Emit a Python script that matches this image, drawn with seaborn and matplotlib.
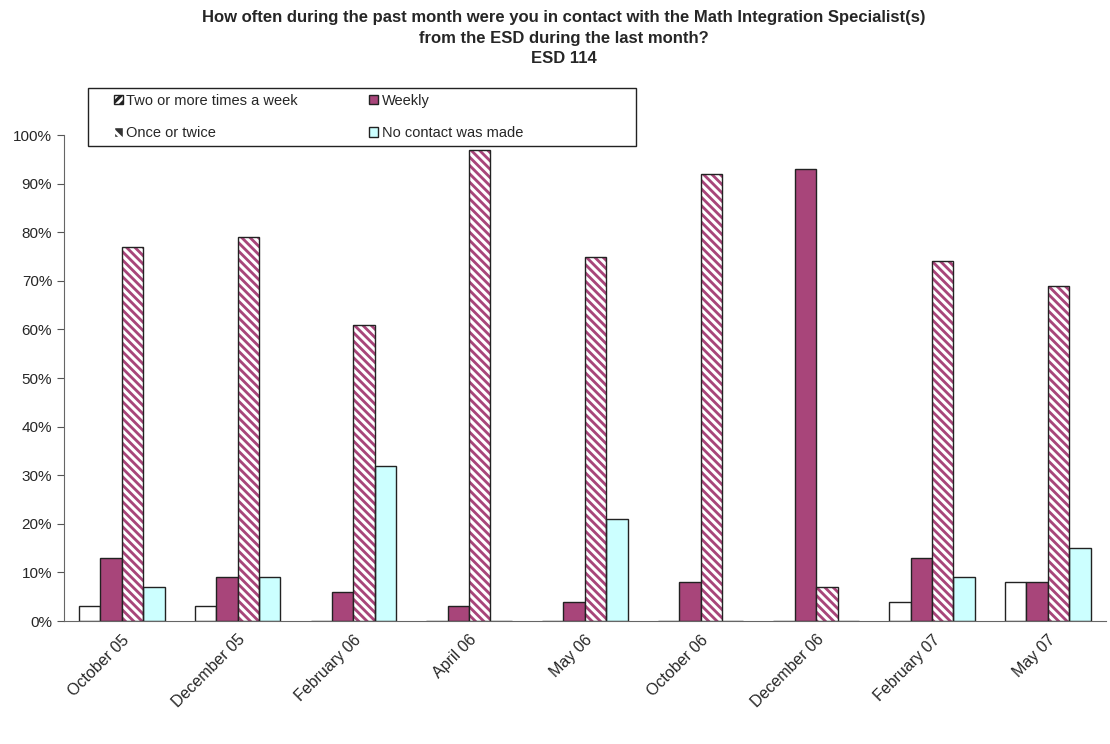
import pandas as pd
import numpy as np
import matplotlib.pyplot as plt
import matplotlib.patches as mpatches
import seaborn as sns
from matplotlib.ticker import PercentFormatter

# Survey periods
months = ['October 05', 'December 05', 'February 06', 'April 06', 'May 06',
          'October 06', 'December 06', 'February 07', 'May 07']

# Share of respondents (%) for each answer
two_or_more = [3, 3, 0, 0, 0, 0, 0, 4, 8]
weekly = [13, 9, 6, 3, 4, 8, 93, 13, 8]
once_twice = [77, 79, 61, 97, 75, 92, 7, 74, 69]
no_contact = [7, 9, 32, 0, 21, 0, 0, 9, 15]

series = ['Two or more times a week', 'Weekly', 'Once or twice', 'No contact was made']
values = [two_or_more, weekly, once_twice, no_contact]

rows = []
for s, vals in zip(series, values):
    for m, v in zip(months, vals):
        rows.append({'Month': m, 'Answer': s, 'Pct': v / 100})
df = pd.DataFrame(rows)

sns.set_style('white')
plt.rcParams['font.family'] = ['Liberation Sans', 'DejaVu Sans']
plt.rcParams['hatch.linewidth'] = 2.2

magenta = '#a8457a'
colors = {'Two or more times a week': '#ffffff', 'Weekly': magenta,
          'Once or twice': magenta, 'No contact was made': '#ccffff'}

fig = plt.figure(figsize=(11.1, 7.44), dpi=100)
ax = fig.add_axes([0.0577, 0.1653, 0.9383, 0.6532])

sns.barplot(data=df, x='Month', y='Pct', hue='Answer', hue_order=series,
            palette=colors, saturation=1, width=0.74, ax=ax, legend=False,
            edgecolor='#222222', linewidth=1.0)

# hatch the "Once or twice" bars: white stripes on magenta, dark outline
for bar in ax.containers[2]:
    bar.set_edgecolor('white')
    bar.set_hatch('\\\\\\\\')
    bar.set_linewidth(0)
    x, y = bar.get_xy()
    ax.add_patch(mpatches.Rectangle((x, y), bar.get_width(), bar.get_height(),
                                    fill=False, edgecolor='#222222', lw=1.0, zorder=3))

ax.set_ylim(0, 1)
ax.set_xlim(-0.5, len(months) - 0.5)
ax.yaxis.set_major_formatter(PercentFormatter(1.0, decimals=0))
ax.set_yticks(np.arange(0, 1.01, 0.1))
ax.set_xlabel('')
ax.set_ylabel('')
ax.tick_params(axis='y', labelsize=11, length=5, direction='out', left=True, color='#555555')
ax.tick_params(axis='x', labelsize=11.5, direction='out', bottom=True, color='#555555')
ax.set_xticks(np.arange(-0.5, len(months), 1.0), minor=True)
ax.tick_params(axis='x', which='major', length=0, pad=8)
ax.tick_params(axis='x', which='minor', length=6, color='#555555')
plt.setp(ax.get_xticklabels(), rotation=45, ha='right', rotation_mode='anchor')
sns.despine(ax=ax)
for sp in ['left', 'bottom']:
    ax.spines[sp].set_color('#666666')

# legend (Excel-style wide box drawn separately)
handles = [
    mpatches.Patch(facecolor='white', edgecolor='#222222', hatch='////', label=series[0]),
    mpatches.Patch(facecolor='#333333', edgecolor='white', hatch='\\\\', label=series[2]),
    mpatches.Patch(facecolor=magenta, edgecolor='#222222', label=series[1]),
    mpatches.Patch(facecolor='#ccffff', edgecolor='#222222', label=series[3]),
]
fig.add_artist(mpatches.Rectangle((88 / 1110, 1 - 146 / 744), 548 / 1110, 58 / 744,
                                  transform=fig.transFigure, facecolor='white',
                                  edgecolor='#222222', lw=1.0, zorder=5))
leg = fig.legend(handles=handles, ncol=2, loc='upper left',
                 bbox_to_anchor=(108 / 1110, 1 - 88 / 744), fontsize=10.5,
                 frameon=False, handlelength=0.6, handleheight=0.6,
                 handletextpad=0.25, columnspacing=4.9, borderpad=0.4,
                 borderaxespad=0, labelspacing=1.25)
leg.set_zorder(6)

fig.text(0.508, 0.986, 'How often during the past month were you in contact with the Math Integration Specialist(s)\n'
         'from the ESD during the last month?\nESD 114',
         ha='center', va='top', fontsize=12, fontweight='bold', linespacing=1.45)

fig.savefig('out.png', dpi=100)
